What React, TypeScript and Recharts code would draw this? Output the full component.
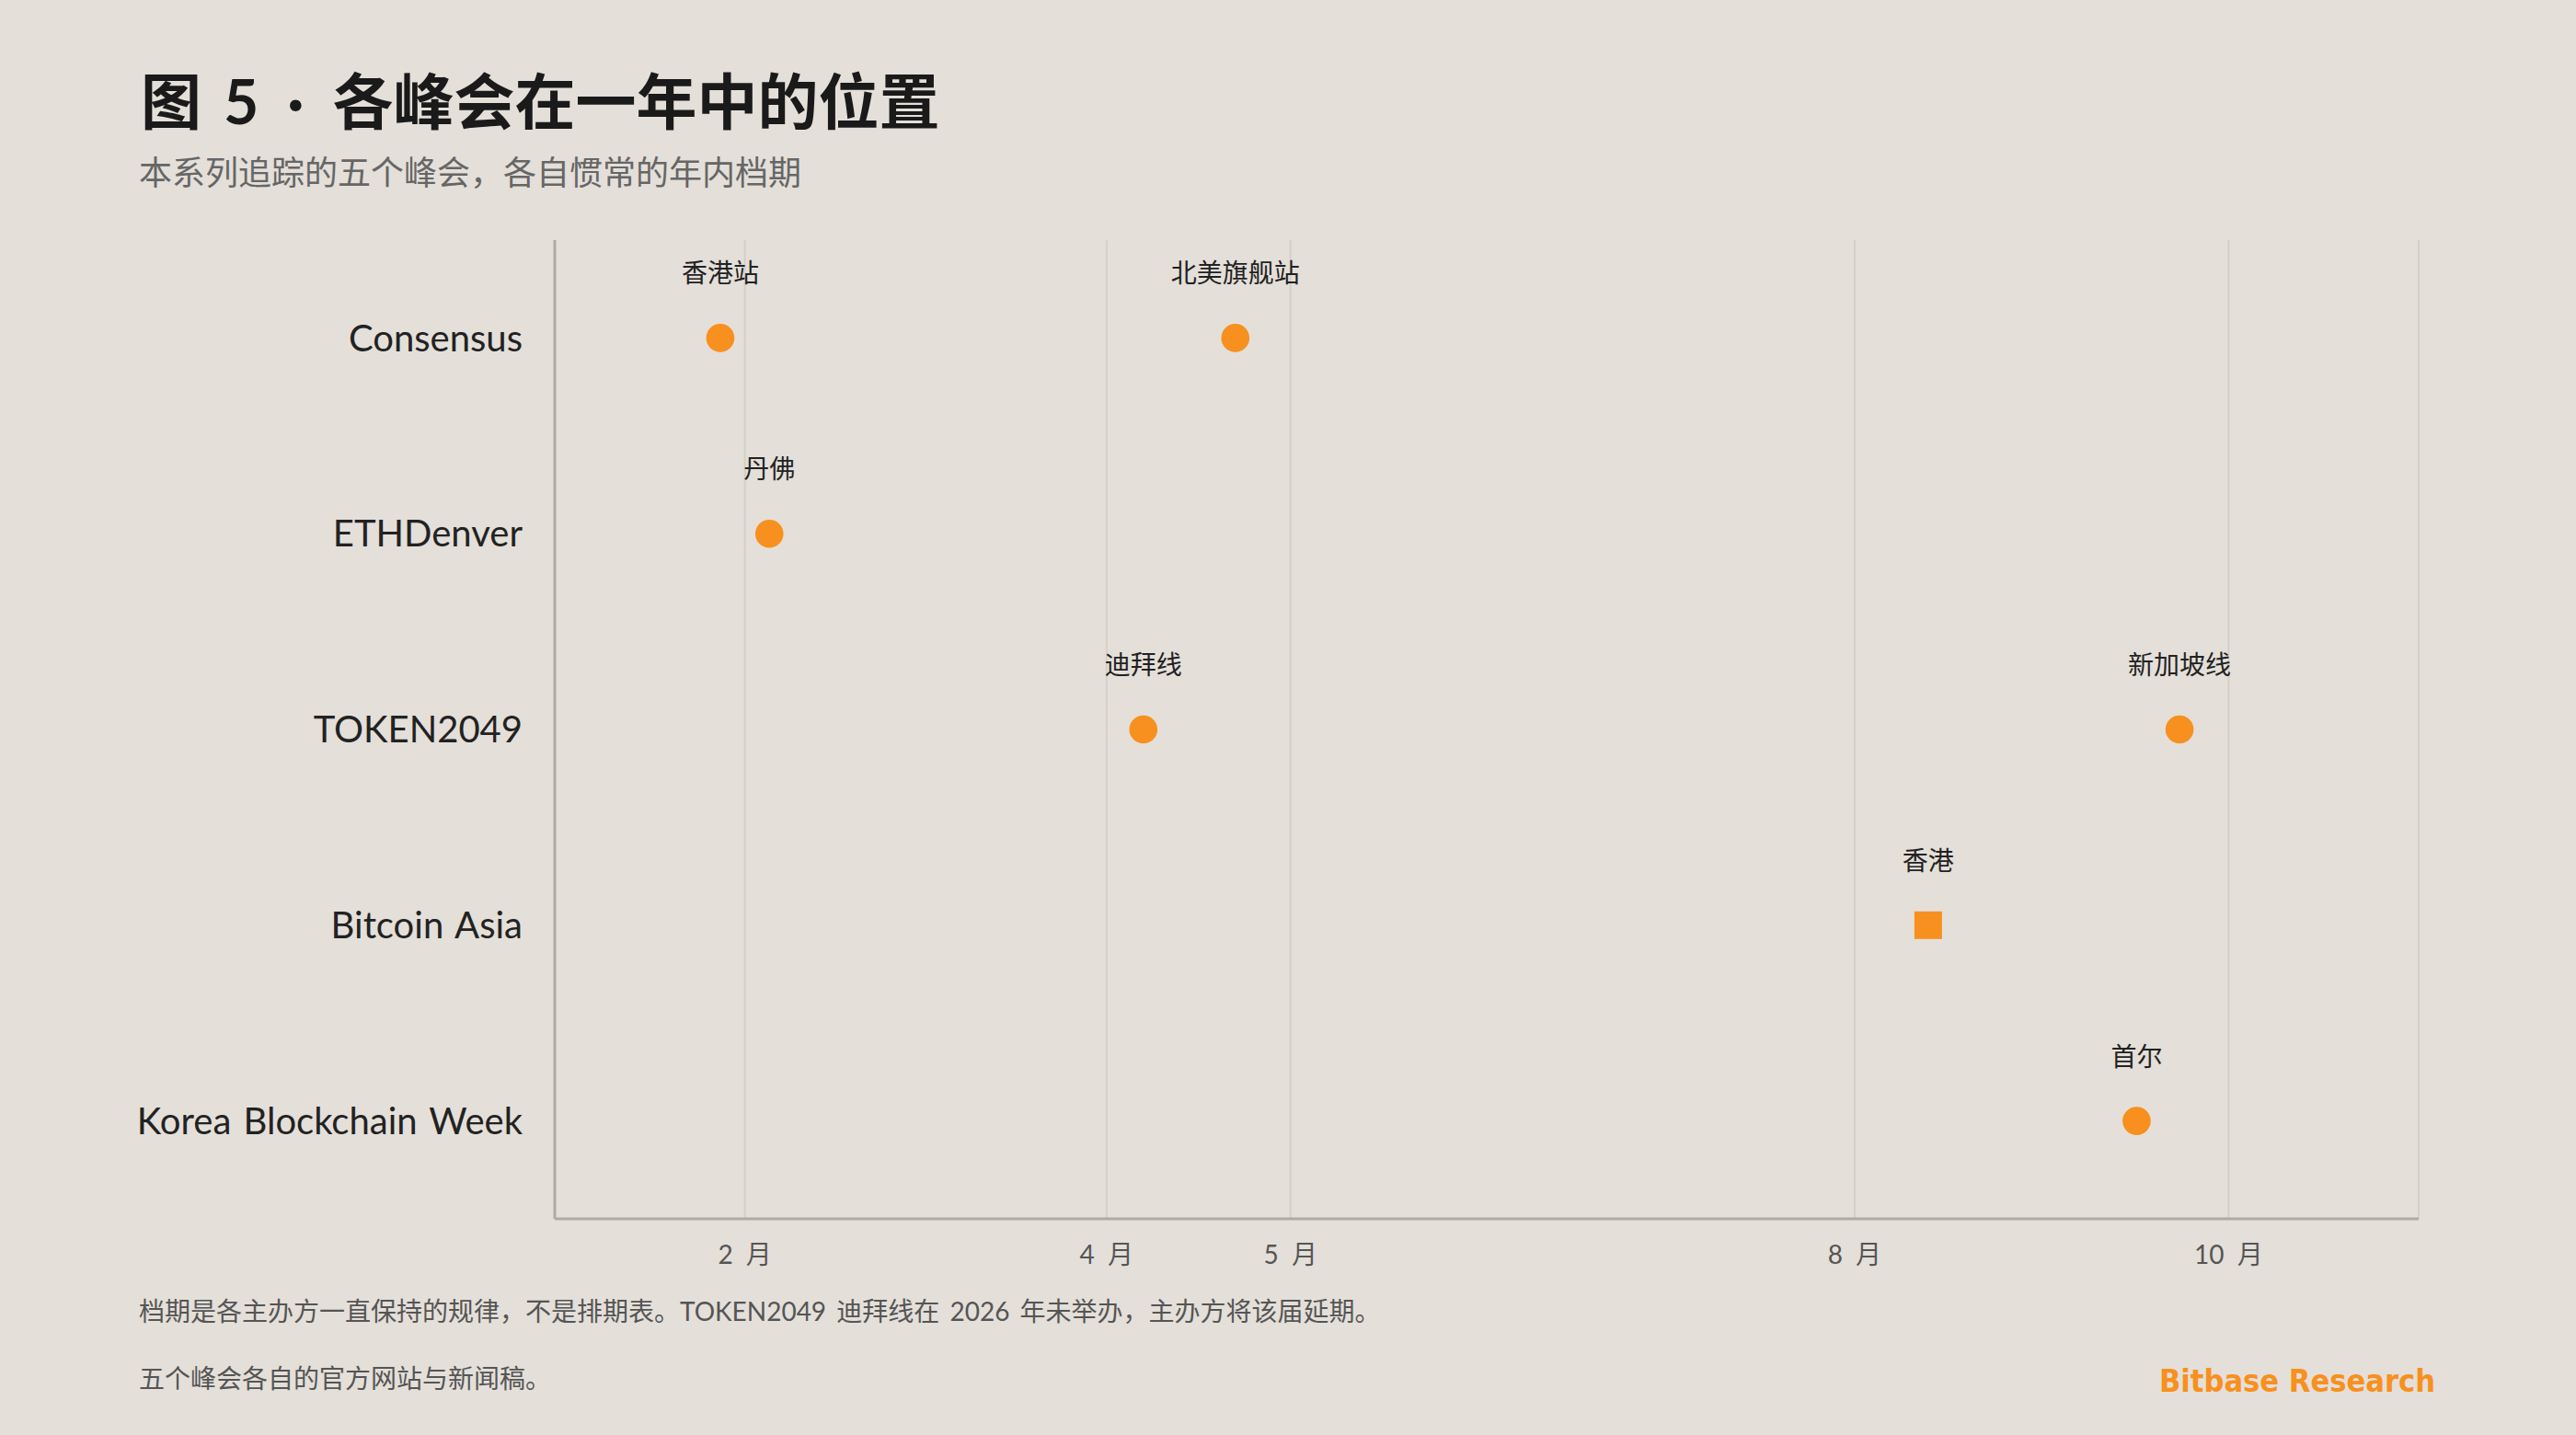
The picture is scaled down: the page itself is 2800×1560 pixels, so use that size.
import React from 'react';
import { ScatterChart, Scatter, XAxis, YAxis, CartesianGrid } from 'recharts';

// ---- data ----
const categories = ['Consensus', 'ETHDenver', 'TOKEN2049', 'Bitcoin Asia', 'Korea Blockchain Week'];

// day-of-year positions of the month ticks and their labels
const monthTickDays = [32, 91, 121, 213, 274];
const monthTickLabels = ['2 月', '4 月', '5 月', '8 月', '10 月'];

// usual window for each summit (day of year)
const circleEvents = [
  { event: 'Consensus', label: '香港站', day: 28 },
  { event: 'Consensus', label: '北美旗舰站', day: 112 },
  { event: 'ETHDenver', label: '丹佛', day: 36 },
  { event: 'TOKEN2049', label: '迪拜线', day: 97 },
  { event: 'TOKEN2049', label: '新加坡线', day: 266 },
  { event: 'Korea Blockchain Week', label: '首尔', day: 259 },
];
const squareEvents = [{ event: 'Bitcoin Asia', label: '香港', day: 225 }];

const xDomain = [1, 305];

// ---- styles ----
const BG = '#E4DFD9';
const ORANGE = '#F7901E';
const CJK = '"Noto Sans CJK SC", sans-serif';
const MIXED = 'Lato, "Noto Sans CJK SC", sans-serif';

const toRows = (arr: { event: string; label: string; day: number }[]) =>
  arr.map((d) => ({ ...d, row: categories.indexOf(d.event) }));

const circleData = toRows(circleEvents);
const squareData = toRows(squareEvents);

const PointLabel = ({ cx, cy, text }: { cx: number; cy: number; text: string }) => (
  <text x={cx} y={cy - 60} textAnchor="middle" fontSize={28} fill="#222" fontFamily={CJK}>
    {text}
  </text>
);

const CircleShape = (props: any) => {
  const { cx, cy, payload } = props;
  return (
    <g>
      <circle cx={cx} cy={cy} r={15.3} fill={ORANGE} />
      <PointLabel cx={cx} cy={cy} text={payload.label} />
    </g>
  );
};

const SquareShape = (props: any) => {
  const { cx, cy, payload } = props;
  return (
    <g>
      <rect x={cx - 15} y={cy - 15} width={30} height={30} fill={ORANGE} />
      <PointLabel cx={cx} cy={cy} text={payload.label} />
    </g>
  );
};

export default function App() {
  return (
    <div
      style={{
        position: 'absolute',
        left: 0,
        top: 0,
        width: 2800,
        height: 1560,
        background: BG,
        fontFamily: MIXED,
        overflow: 'hidden',
      }}
    >
      <ScatterChart width={2800} height={1560} margin={{ top: 261, right: 171, bottom: 0, left: 0 }}>
        <CartesianGrid horizontal={false} stroke="#D4CFC8" strokeWidth={2} />
        <XAxis
          type="number"
          dataKey="day"
          domain={xDomain}
          ticks={monthTickDays}
          tickFormatter={(v: number) => monthTickLabels[monthTickDays.indexOf(v)]}
          height={235}
          tickLine={false}
          tickSize={0}
          tickMargin={29}
          axisLine={{ stroke: '#B0ABA2', strokeWidth: 3 }}
          tick={{ fill: '#555', fontSize: 28, fontFamily: MIXED, style: { wordSpacing: 7 } }}
          interval={0}
        />
        <YAxis
          type="number"
          dataKey="row"
          domain={[-0.5, 4.5]}
          reversed
          ticks={[0, 1, 2, 3, 4]}
          tickFormatter={(v: number) => categories[v]}
          width={603}
          tickLine={false}
          tickSize={0}
          tickMargin={35}
          axisLine={{ stroke: '#B0ABA2', strokeWidth: 3 }}
          tick={{ fill: '#222', fontSize: 40, fontFamily: MIXED, style: { wordSpacing: 3 } }}
          interval={0}
        />
        <Scatter data={circleData} shape={CircleShape} isAnimationActive={false} />
        <Scatter data={squareData} shape={SquareShape} isAnimationActive={false} />
      </ScatterChart>
      <svg
        width={2800}
        height={1560}
        style={{ position: 'absolute', left: 0, top: 0, pointerEvents: 'none' }}
      >
        <text
          x={153}
          y={135}
          fontSize={66}
          fontWeight={700}
          fill="#1A1A1A"
          fontFamily={MIXED}
          style={{ wordSpacing: 8 }}
        >
          <tspan>图 5</tspan>
          <tspan dx={7}> ·</tspan>
          <tspan dx={7}> 各峰会在一年中的位置</tspan>
        </text>
        <text x={151} y={201} fontSize={36} fill="#666" fontFamily={CJK}>
          本系列追踪的五个峰会，各自惯常的年内档期
        </text>
        <text x={151} y={1436} fontSize={28} fill="#555" fontFamily={MIXED} style={{ wordSpacing: 4 }}>
          档期是各主办方一直保持的规律，不是排期表。TOKEN2049 迪拜线在 2026 年未举办，主办方将该届延期。
        </text>
        <text x={151} y={1509} fontSize={28} fill="#555" fontFamily={MIXED}>
          五个峰会各自的官方网站与新闻稿。
        </text>
        <text
          x={2347}
          y={1513}
          fontSize={33}
          fontWeight={700}
          fill={ORANGE}
          fontFamily='"DejaVu Sans", sans-serif'
          textLength={300}
          lengthAdjust="spacingAndGlyphs"
        >
          Bitbase Research
        </text>
      </svg>
    </div>
  );
}
